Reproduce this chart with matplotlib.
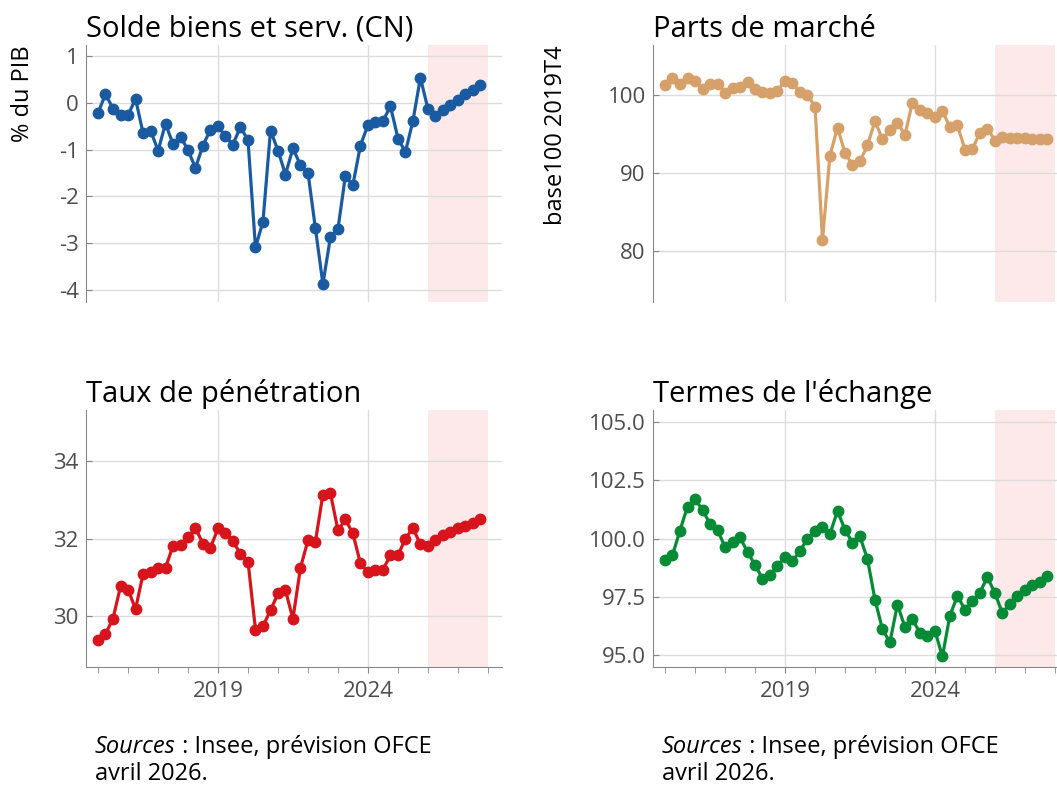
import pandas as pd
import numpy as np
import matplotlib
matplotlib.use("Agg")
import matplotlib.pyplot as plt
import matplotlib.dates as mdates

plt.rcParams['font.family'] = ['Open Sans', 'DejaVu Sans']
plt.rcParams['axes.unicode_minus'] = False

# quarterly data, 2015T1 -> 2027T4 (forecast from 2026T1)
quarters = pd.period_range("2015Q1", "2027Q4", freq="Q")

solde = [-0.21, 0.19, -0.12, -0.26, -0.26, 0.09, -0.64, -0.59, -1.02, -0.44,
         -0.88, -0.72, -1.01, -1.39, -0.91, -0.57, -0.50, -0.71, -0.89, -0.51,
         -0.80, -3.09, -2.54, -0.59, -1.02, -1.53, -0.97, -1.33, -1.50, -2.68,
         -3.87, -2.87, -2.69, -1.56, -1.76, -0.91, -0.47, -0.41, -0.39, -0.07,
         -0.76, -1.05, -0.39, 0.54, -0.13, -0.28, -0.16, -0.04, 0.07, 0.19,
         0.27, 0.38]

parts = [101.32, 102.18, 101.45, 102.18, 101.88, 100.81, 101.45, 101.45, 100.34, 100.98,
         101.11, 101.75, 100.77, 100.47, 100.34, 100.60, 101.88, 101.54, 100.38, 100.04,
         98.55, 81.45, 92.26, 95.85, 92.56, 91.07, 91.50, 93.59, 96.67, 94.36,
         95.56, 96.50, 94.91, 99.06, 98.12, 97.78, 97.26, 97.99, 95.90, 96.15,
         92.99, 93.08, 95.21, 95.73, 94.19, 94.62, 94.57, 94.49, 94.49, 94.44,
         94.44, 94.36]

penetration = [29.39, 29.55, 29.94, 30.77, 30.69, 30.19, 31.08, 31.14, 31.25, 31.25,
               31.81, 31.83, 32.03, 32.27, 31.87, 31.77, 32.26, 32.15, 31.94, 31.60,
               31.41, 29.66, 29.75, 30.16, 30.59, 30.67, 29.94, 31.25, 31.96, 31.92,
               33.13, 33.16, 32.21, 32.49, 32.13, 31.37, 31.13, 31.20, 31.20, 31.57,
               31.57, 32.00, 32.27, 31.85, 31.80, 31.97, 32.10, 32.17, 32.26, 32.33,
               32.41, 32.51]

termes = [99.09, 99.29, 100.34, 101.37, 101.68, 101.23, 100.63, 100.37, 99.63, 99.87,
          100.06, 99.42, 98.87, 98.29, 98.43, 98.83, 99.23, 99.02, 99.47, 100.00,
          100.33, 100.51, 100.20, 101.18, 100.37, 99.83, 100.09, 99.12, 97.38, 96.13,
          95.56, 97.18, 96.20, 96.55, 95.98, 95.84, 96.05, 94.96, 96.71, 97.55,
          96.95, 97.35, 97.69, 98.35, 97.66, 96.81, 97.21, 97.55, 97.81, 98.01,
          98.16, 98.38]

x = quarters.to_timestamp()
xmin = pd.Timestamp("2014-08-03")
xmax = pd.Timestamp("2028-06-17")
shade_start = pd.Timestamp("2026-01-01")
shade_end = pd.Timestamp("2028-01-01")

W, H = 1057, 785
fig = plt.figure(figsize=(W / 100, H / 100), dpi=100)

def rect(left, top, width=416, height=256.7):
    return [left / W, 1 - (top + height) / H, width / W, height / H]

tick_color = "#4d4d4d"
grid_color = "#dcdcdc"
spine_color = "#888888"

def panel(r, y, color, title, yticks, ylim, ylabel=None, bottom=False, fmt=None):
    ax = fig.add_axes(r)
    ax.axvspan(shade_start, shade_end, color="#fde9e9", lw=0, zorder=0)
    ax.plot(x, y, color=color, lw=2.3, marker="o", ms=7.5, zorder=3)
    ax.set_xlim(xmin, xmax)
    ax.set_ylim(*ylim)
    ax.set_yticks(yticks)
    if fmt:
        ax.set_yticklabels([fmt.format(v) for v in yticks])
    ax.set_xticks([pd.Timestamp("2019-01-01"), pd.Timestamp("2024-01-01")])
    ax.xaxis.set_major_formatter(mdates.DateFormatter("%Y"))
    ax.xaxis.set_minor_locator(mdates.YearLocator(1))
    ax.grid(True, color=grid_color, lw=1, zorder=1)
    ax.set_axisbelow(True)
    for s in ["top", "right"]:
        ax.spines[s].set_visible(False)
    ax.spines["left"].set_color(spine_color)
    ax.spines["bottom"].set_color(spine_color)
    ax.tick_params(axis="y", direction="in", length=4, color=spine_color,
                   labelsize=16, labelcolor=tick_color, pad=5)
    if bottom:
        ax.tick_params(axis="x", which="both", direction="out", length=4,
                       color=spine_color, labelsize=16, labelcolor=tick_color, pad=6)
    else:
        ax.spines["bottom"].set_visible(False)
        ax.tick_params(axis="x", which="both", length=0, labelbottom=False)
    ax.set_title(title, loc="left", fontsize=21, color="black", pad=6)
    if ylabel:
        ax.set_ylabel(ylabel, loc="top", fontsize=17, color="black")
    return ax

ax1 = panel(rect(85.7, 45), solde, "#1a5aa0", "Solde biens et serv. (CN)",
            [1, 0, -1, -2, -3, -4], (-4.25, 1.24), ylabel="% du PIB")
ax1.yaxis.set_label_coords(-0.123, 1.0)

ax2 = panel(rect(652.7, 45), parts, "#d6a06b", "Parts de marché",
            [100, 90, 80], (73.5, 106.45), ylabel="base100 2019T4")
ax2.yaxis.set_label_coords(-0.203, 1.0)

ax3 = panel(rect(85.7, 410), penetration, "#d7141c", "Taux de pénétration",
            [34, 32, 30], (28.71, 35.3), bottom=True)

ax4 = panel(rect(652.7, 410), termes, "#058a35", "Termes de l'échange",
            [105.0, 102.5, 100.0, 97.5, 95.0], (94.52, 105.5), bottom=True, fmt="{:.1f}")

renderer = fig.canvas.get_renderer()
for xpos in [95, 662]:
    t = fig.text(xpos / W, 1 - 753 / H, "Sources", fontsize=17, style="italic", va="baseline")
    w = t.get_window_extent(renderer).width
    fig.text((xpos + w) / W, 1 - 753 / H, " : Insee, prévision OFCE", fontsize=17, va="baseline")
    fig.text(xpos / W, 1 - 780 / H, "avril 2026.", fontsize=17, va="baseline")

fig.savefig("out.png", dpi=100)
